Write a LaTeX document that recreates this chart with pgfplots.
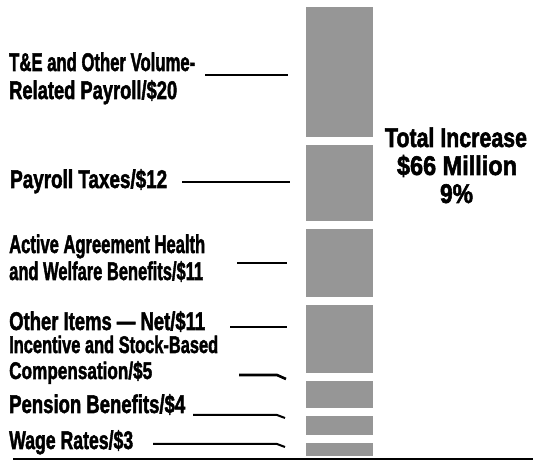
\documentclass[border=0pt]{standalone}
\usepackage{pgfplots}
\pgfplotsset{compat=1.18}
\usepackage{pgfplotstable}
\usepackage{graphicx}
\usepackage{fontspec}
\setmainfont{Liberation Sans}
\newfontfamily\labfont{Liberation Sans Bold}[FakeBold=2.2]
\definecolor{barg}{RGB}{150,150,150}
\pgfplotstableread{
x wage pension incentive other active payroll te
339.5 3 4 5 11 11 12 20
}\costs
\newcommand{\lab}[2]{\resizebox{#1bp}{\height}{\labfont\fontsize{25.5bp}{28bp}\selectfont #2}}
\newcommand{\labs}[2]{\resizebox{#1bp}{\height}{\labfont\fontsize{24bp}{26bp}\selectfont #2}}
\newcommand{\tot}[2]{\resizebox{#1bp}{\height}{\labfont\fontsize{27bp}{28bp}\selectfont #2}}

\begin{document}
\begin{tikzpicture}
\useasboundingbox (0,0) rectangle (533bp,461bp);
\begin{axis}[at={(0,0)}, anchor=south west, scale only axis,
  width=533bp, height=461bp, xmin=0, xmax=533,
  ymin=-0.14442, ymax=66.4333, hide axis, clip=false,
  ybar stacked, bar width=75bp]
\addplot[fill=barg, draw=white, line width=8bp] table[x=x, y=wage]{\costs};
\addplot[fill=barg, draw=white, line width=8bp] table[x=x, y=pension]{\costs};
\addplot[fill=barg, draw=white, line width=8bp] table[x=x, y=incentive]{\costs};
\addplot[fill=barg, draw=white, line width=8bp] table[x=x, y=other]{\costs};
\addplot[fill=barg, draw=white, line width=8bp] table[x=x, y=active]{\costs};
\addplot[fill=barg, draw=white, line width=8bp] table[x=x, y=payroll]{\costs};
\addplot[fill=barg, draw=white, line width=8bp] table[x=x, y=te]{\costs};
\end{axis}
\begin{scope}[shift={(0bp,461bp)}, x=1bp, y=-1bp]
\draw[line width=2.2bp] (13,459) -- (533,459);
% leader lines
\draw[line width=2bp] (205,75) -- (288,75);
\draw[line width=2bp] (182,182) -- (290,182);
\draw[line width=2bp] (237,263) -- (287,263);
\draw[line width=2bp] (230,327) -- (287,327);
\draw[line width=2.6bp] (239,375) -- (277,375) -- (286,379);
\draw[line width=2bp] (193,415) -- (277,415) -- (285,418);
\draw[line width=2bp] (153,444) -- (277,444) -- (285,447);
% labels
\tikzset{labn/.style={anchor=base west, inner sep=0pt}}
\node[labn] at (9,71) {\lab{186}{T\&E and Other Volume-}};
\node[labn] at (9,99) {\lab{168}{Related Payroll/\$20}};
\node[labn] at (10,188) {\lab{157}{Payroll Taxes/\$12}};
\node[labn] at (9,253) {\lab{196}{Active Agreement Health}};
\node[labn] at (9,280) {\lab{194}{and Welfare Benefits/\$11}};
\node[labn] at (9,330) {\lab{196}{Other Items — Net/\$11}};
\node[labn] at (9,353) {\labs{209}{Incentive and Stock-Based}};
\node[labn] at (9,379) {\labs{143}{Compensation/\$5}};
\node[labn] at (9,413) {\lab{176}{Pension Benefits/\$4}};
\node[labn] at (9,449) {\lab{124}{Wage Rates/\$3}};
\tikzset{totn/.style={anchor=base, inner sep=0pt}}
\node[totn] at (456,147) {\tot{142}{Total Increase}};
\node[totn] at (457,175) {\tot{120}{\$66 Million}};
\node[totn] at (456.5,203) {\tot{33}{9\%}};
\end{scope}
\end{tikzpicture}
\end{document}
